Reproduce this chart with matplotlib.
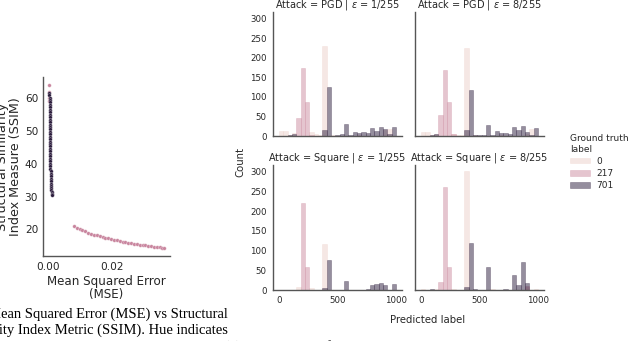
import numpy as np
import matplotlib.pyplot as plt
import matplotlib.patches as mpatches
import seaborn as sns

# scatter: MSE vs SSIM (left panel)
mse_dark = [0.00030, 0.00031, 0.00033, 0.00034, 0.00035, 0.00036, 0.00037, 0.00038, 0.00039, 0.00040,
            0.00041, 0.00042, 0.00043, 0.00044, 0.00045, 0.00046, 0.00047, 0.00048, 0.00049, 0.00050,
            0.00051, 0.00052, 0.00053, 0.00054, 0.00055, 0.00056, 0.00057, 0.00058, 0.00059, 0.00060,
            0.00062, 0.00064, 0.00066, 0.00068, 0.00071, 0.00074, 0.00078, 0.00082, 0.00086, 0.00090,
            0.00095, 0.00100, 0.00106, 0.00112]
ssim_dark = [61.5, 61.0, 60.2, 59.5, 58.8, 58.0, 57.3, 56.5, 55.8, 55.0,
             54.3, 53.5, 52.8, 52.0, 51.3, 50.5, 49.8, 49.0, 48.3, 47.5,
             46.8, 46.0, 45.3, 44.5, 43.8, 43.0, 42.3, 41.5, 40.8, 40.0,
             39.3, 38.5, 37.8, 37.0, 36.3, 35.5, 34.8, 34.0, 33.3, 32.6,
             32.0, 31.4, 30.9, 30.5]
mse_pink = [0.00010, 0.00011, 0.00012, 0.00012,
            0.0080, 0.0089, 0.0098, 0.0107, 0.0116, 0.0125, 0.0134, 0.0143, 0.0152, 0.0161,
            0.0170, 0.0179, 0.0188, 0.0197, 0.0206, 0.0215, 0.0224, 0.0233, 0.0242, 0.0251,
            0.0260, 0.0269, 0.0278, 0.0287, 0.0296, 0.0305, 0.0314, 0.0323, 0.0332, 0.0341,
            0.0350, 0.0358, 0.0364]
ssim_pink = [64.0, 62.0, 60.0, 59.3,
             21.0, 20.5, 20.1, 19.7, 19.4, 19.0, 18.7, 18.4, 18.2, 17.9,
             17.7, 17.5, 17.3, 17.1, 16.9, 16.7, 16.5, 16.3, 16.2, 16.0,
             15.9, 15.7, 15.6, 15.4, 15.3, 15.2, 15.0, 14.9, 14.8, 14.7,
             14.6, 14.5, 14.4]

# histograms: counts per bin (27 bins over labels 0..999), per ground truth label
bin_edges = np.linspace(0, 999, 28)
gt_labels = [0, 217, 701]
titles = ['Attack = PGD | $\\epsilon$ = 1/255', 'Attack = PGD | $\\epsilon$ = 8/255',
          'Attack = Square | $\\epsilon$ = 1/255', 'Attack = Square | $\\epsilon$ = 8/255']

pgd1 = {
    0:   [14, 12, 2, 8, 0, 0, 0, 10, 5, 3, 230, 0, 2, 0, 0, 0, 0, 0, 2, 0, 0, 0, 0, 0, 15, 18, 0],
    217: [0, 0, 0, 0, 47, 175, 87, 3, 0, 0, 0, 0, 0, 0, 0, 0, 0, 0, 0, 0, 0, 0, 0, 0, 0, 0, 0],
    701: [0, 0, 3, 5, 0, 0, 0, 0, 0, 0, 15, 126, 0, 3, 5, 30, 3, 9, 7, 10, 8, 21, 14, 23, 18, 5, 22],
}
pgd8 = {
    0:   [9, 9, 2, 4, 0, 0, 0, 5, 3, 2, 225, 0, 3, 0, 0, 0, 0, 0, 3, 0, 0, 0, 0, 0, 5, 18, 0],
    217: [0, 0, 0, 0, 53, 170, 86, 5, 0, 0, 0, 0, 0, 0, 0, 0, 0, 0, 0, 0, 0, 0, 0, 0, 0, 0, 0],
    701: [0, 0, 2, 6, 0, 0, 0, 0, 0, 0, 15, 117, 2, 3, 2, 29, 2, 14, 7, 8, 6, 23, 16, 25, 11, 3, 21],
}
sq1 = {
    0:   [0, 0, 0, 0, 8, 0, 0, 5, 0, 0, 116, 0, 0, 0, 0, 0, 0, 0, 0, 0, 0, 0, 0, 0, 0, 0, 0],
    217: [0, 0, 0, 0, 0, 221, 59, 0, 0, 0, 0, 0, 0, 0, 0, 0, 0, 0, 0, 0, 0, 0, 0, 0, 0, 0, 0],
    701: [0, 0, 0, 0, 0, 0, 0, 0, 0, 0, 5, 77, 0, 0, 0, 22, 0, 0, 0, 0, 3, 12, 14, 19, 13, 0, 14],
}
sq8 = {
    0:   [3, 0, 0, 2, 0, 0, 0, 3, 0, 0, 302, 0, 0, 0, 0, 0, 3, 0, 0, 0, 0, 0, 0, 0, 8, 0, 3],
    217: [0, 0, 0, 0, 21, 262, 59, 0, 0, 0, 0, 0, 0, 0, 0, 0, 0, 0, 0, 0, 0, 0, 0, 0, 10, 0, 0],
    701: [0, 0, 3, 0, 0, 0, 0, 0, 0, 0, 8, 119, 3, 0, 0, 59, 0, 0, 0, 2, 0, 37, 12, 72, 17, 0, 0],
}
facets = [pgd1, pgd8, sq1, sq8]

sns.set_style('white')
plt.rcParams['font.family'] = ['DejaVu Sans']
cmap = sns.cubehelix_palette(as_cmap=True)
hue_colors = {lab: cmap(lab / max(gt_labels)) for lab in gt_labels}
spine_col = '#555555'
text_col = '#262626'

W, H = 640, 341
fig = plt.figure(figsize=(W / 100, H / 100), dpi=100)


def px(x0, y0, x1, y1):
    return [x0 / W, 1 - y1 / H, (x1 - x0) / W, (y1 - y0) / H]


def style(ax, size):
    for s in ['top', 'right']:
        ax.spines[s].set_visible(False)
    for s in ['left', 'bottom']:
        ax.spines[s].set_color(spine_col)
        ax.spines[s].set_linewidth(1.0)
    ax.tick_params(length=0, labelsize=size, colors=text_col, pad=4.5)


# LEFT SCATTER
ax = fig.add_axes(px(43, 77, 170, 256))
ax.scatter(mse_pink, ssim_pink, s=7, color='#c9869f', edgecolor='white', linewidth=0.2, zorder=2)
ax.scatter(mse_dark, ssim_dark, s=7, color='#2d1e3e', edgecolor='white', linewidth=0.2, zorder=3)
ax.set_xticks([0.00, 0.02])
ax.set_yticks([20, 30, 40, 50, 60])
style(ax, 7.6)
ax.tick_params(axis='y', pad=3.5)
ax.set_xlabel('Mean Squared Error\n(MSE)', fontsize=8.6, color=text_col, labelpad=2, linespacing=1.0)
ax.set_ylabel('Structural Similarity\nIndex Measure (SSIM)', fontsize=9.2, color=text_col, labelpad=2, linespacing=1.0)

# HISTOGRAM GRID
boxes = [px(273, 12, 402, 136), px(415, 12, 544, 136),
         px(273, 165, 402, 290), px(415, 165, 544, 290)]
axes = []
widths = np.diff(bin_edges)
for i, (box, data, title) in enumerate(zip(boxes, facets, titles)):
    a = fig.add_axes(box)
    for lab in gt_labels:
        a.bar(bin_edges[:-1], data[lab], width=widths, align='edge',
              color=hue_colors[lab], alpha=0.5, edgecolor=hue_colors[lab], linewidth=0.4)
    a.set_xlim(-50, 1049)
    a.set_ylim(0, 317)
    a.set_xticks([0, 500, 1000])
    a.set_yticks([0, 50, 100, 150, 200, 250, 300])
    style(a, 6.2)
    a.set_title(title, fontsize=7, color=text_col, pad=3)
    if i % 2 == 1:
        a.tick_params(labelleft=False)
    if i < 2:
        a.tick_params(labelbottom=False)
    axes.append(a)

fig.text(428 / W, 1 - 320 / H, 'Predicted label', fontsize=7.3, color=text_col, ha='center', va='center')
fig.text(240 / W, 1 - 162 / H, 'Count', fontsize=7.3, color=text_col, ha='center', va='center', rotation=90)

handles = [mpatches.Patch(facecolor=hue_colors[lab], edgecolor=hue_colors[lab], alpha=0.5, linewidth=0.4)
           for lab in gt_labels]
leg = fig.legend(handles, [str(l) for l in gt_labels], title='Ground truth\nlabel', loc='upper left',
                 bbox_to_anchor=(562 / W, 1 - 126 / H), frameon=False, fontsize=6.5, title_fontsize=6.5,
                 handlelength=2.2, handleheight=0.6, labelspacing=0.35, handletextpad=0.7)
leg._legend_box.align = 'left'

# caption fragments
cap = dict(fontsize=10.5, family='Liberation Serif', color='black', ha='right', va='center')
fig.text(228 / W, 1 - 314 / H, 'Mean Squared Error (MSE) vs Structural', **cap)
fig.text(228 / W, 1 - 330 / H, 'Similarity Index Metric (SSIM). Hue indicates', **cap)
fig.text(228 / W, 1 - 347 / H, 'the ground truth label. Marker size shows', **cap)
fig.text(224 / W, 1 - 347 / H, '(b) Distribution of labels predicted by the model under attack. Distribution of predicted labels',
         fontsize=10.5, family='Liberation Serif', color='black', ha='left', va='center')

fig.savefig('out.png', dpi=100)
